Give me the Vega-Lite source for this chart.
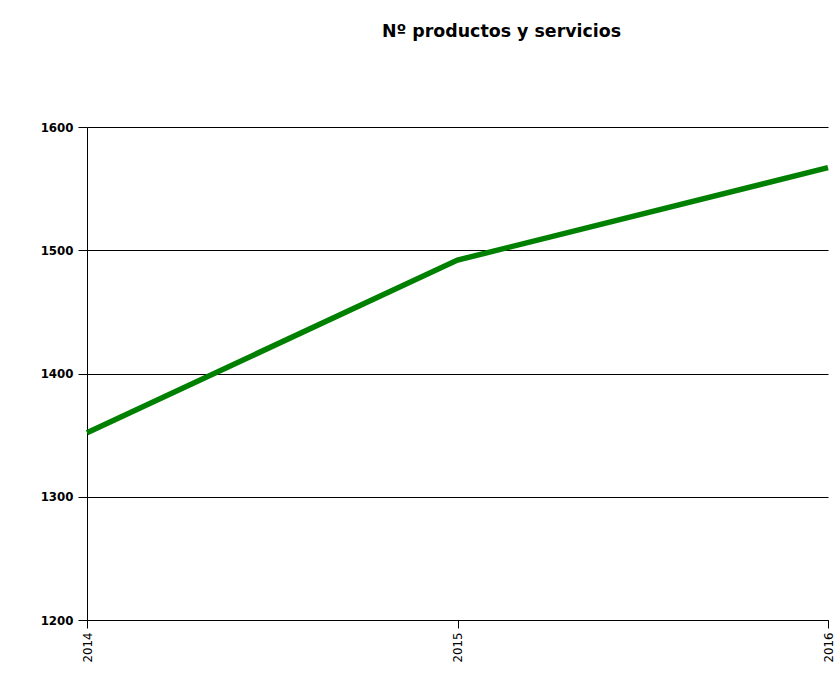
{
  "$schema": "https://vega.github.io/schema/vega-lite/v6.json",
  "width": 741,
  "height": 493,
  "autosize": {"type": "none"},
  "padding": {"left": 87, "top": 127, "right": 11, "bottom": 79},
  "background": "white",
  "title": {
    "text": "Nº productos y servicios",
    "font": "DejaVu Sans",
    "fontSize": 17.4,
    "fontWeight": "bold",
    "color": "#000000",
    "anchor": "middle",
    "dx": 44,
    "offset": 82
  },
  "config": {"view": {"stroke": null}},
  "data": {
    "values": [
      {"year": "2014", "value": 1352},
      {"year": "2015", "value": 1492},
      {"year": "2016", "value": 1567}
    ]
  },
  "mark": {"type": "line", "color": "#008000", "strokeWidth": 5.5},
  "encoding": {
    "x": {
      "field": "year",
      "type": "ordinal",
      "scale": {"type": "point", "padding": 0},
      "axis": {
        "title": null,
        "labelAngle": 270,
        "labelAlign": "right",
        "labelBaseline": "middle",
        "labelFont": "DejaVu Sans",
        "labelFontSize": 11.8,
        "labelColor": "#000000",
        "labelPadding": 4,
        "tickSize": 8,
        "tickColor": "#000000",
        "domainColor": "#000000",
        "grid": false
      }
    },
    "y": {
      "field": "value",
      "type": "quantitative",
      "scale": {"domain": [1200, 1600], "nice": false, "zero": false},
      "axis": {
        "title": null,
        "format": "d",
        "values": [1200, 1300, 1400, 1500, 1600],
        "labelFont": "DejaVu Sans",
        "labelFontSize": 11.8,
        "labelFontWeight": "bold",
        "labelColor": "#000000",
        "labelPadding": 5,
        "tickSize": 9,
        "tickColor": "#000000",
        "domainColor": "#000000",
        "grid": true,
        "gridColor": "#000000",
        "gridOpacity": 1
      }
    }
  }
}
